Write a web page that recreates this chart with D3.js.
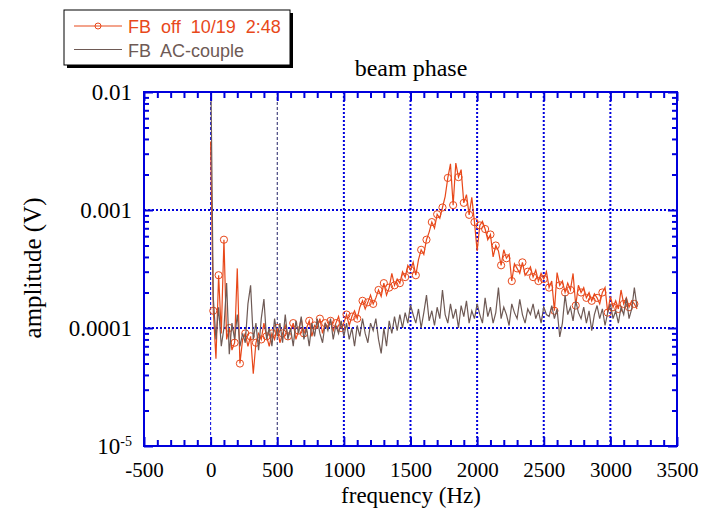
<!DOCTYPE html>
<html>
<head>
<meta charset="utf-8">
<script src="https://cdn.jsdelivr.net/npm/d3@7"></script>
<style>
  body { margin: 0; background: #fff; }
  svg { display: block; }
  .serif { font-family: "Liberation Serif", "Times New Roman", serif; fill: #000; }
  .legend-text { font-family: "Liberation Sans", Arial, sans-serif; font-size: 18px; white-space: pre; }
</style>
</head>
<body>
<div id="chart"></div>
<script>
// spectrum sampled every 20 Hz from 0 to 3200 Hz, amplitudes in units of 1e-4 V
const freqStep = 20
const fbOff = [
  38, 1.4, 0.55, 2.8, 0.9, 5.6, 0.8, 1.0, 0.65, 0.75,
  3.2, 0.5, 0.8, 0.9, 0.7, 0.85, 0.41, 0.75, 0.9, 0.8,
  1.1, 0.85, 0.7, 0.9, 0.8, 1.0, 0.75, 0.9, 1.05, 0.85,
  0.95, 1.1, 0.8, 0.95, 1.2, 0.9, 1.0, 1.15, 0.85, 1.05,
  1.0, 1.2, 0.9, 1.1, 1.0, 1.15, 0.95, 1.1, 1.25, 1.0,
  1.1, 1.3, 1.05, 1.25, 1.4, 1.2, 1.5, 1.7, 1.45, 1.65,
  1.9, 1.6, 1.8, 2.1, 1.85, 2.4, 1.9, 2.2, 2.9, 2.3,
  2.6, 2.4, 3.0, 2.7, 3.4, 3.1, 3.6, 2.8, 3.8, 4.6,
  4.2, 5.6, 6.5, 7.9, 7.0, 9.2, 8.5, 10.5, 13, 18.7,
  24.6, 11, 25, 19, 22, 11.5, 13.5, 9.1, 12.8, 7.9,
  4.5, 7.4, 8.0, 6.9, 5.6, 6.2, 4.0, 5.0, 4.5, 3.4,
  4.6, 3.9, 4.2, 2.5, 3.5, 3.2, 2.9, 3.6, 2.8, 3.0,
  3.3, 2.7, 3.1, 2.5, 2.9, 2.6, 3.0, 2.2, 2.5, 1.4,
  2.95, 2.3, 2.5, 2.0, 2.4, 2.1, 2.9, 1.55, 2.3, 2.0,
  2.2, 1.8, 2.0, 1.7, 1.95, 1.8, 1.6, 2.0, 2.2, 1.35,
  1.85, 1.5, 1.7, 1.45, 2.1, 1.6, 1.8, 1.5, 1.7, 1.6,
  1.45
]
const acCouple = [
  200, 1.8, 0.8, 1.5, 0.7, 1.0, 2.4, 0.6, 1.1, 0.8,
  1.3, 0.7, 0.9, 0.75, 1.6, 2.3, 0.8, 1.1, 0.65, 1.2,
  1.76, 0.8, 1.0, 0.7, 1.2, 0.85, 1.1, 0.75, 1.3, 0.8,
  1.0, 0.7, 1.15, 0.9, 1.25, 0.8, 1.0, 0.7, 1.1, 0.85,
  1.2, 0.9, 0.75, 1.1, 0.95, 1.2, 0.8, 1.05, 0.9, 1.15,
  0.85, 1.1, 0.8, 1.0, 0.7, 1.05, 0.85, 1.2, 0.9, 0.75,
  1.1, 0.95, 1.2, 0.8, 0.61, 1.0, 0.7, 1.15, 0.9, 1.25,
  0.95, 1.3, 1.0, 1.35, 1.1, 1.57, 1.3, 1.1, 1.45, 1.0,
  1.35, 1.9, 1.15, 1.4, 1.05, 1.5, 1.2, 2.1, 1.3, 1.1,
  1.6, 1.2, 1.45, 1.0, 1.55, 1.25, 1.7, 1.1, 1.4, 1.2,
  1.6, 1.3, 1.1, 1.8, 1.25, 1.5, 1.1, 1.35, 2.2, 1.2,
  1.5, 1.3, 1.05, 1.6, 1.35, 1.2, 1.75, 1.3, 1.1, 1.45,
  1.3, 1.6, 1.2, 1.4, 1.1, 1.5, 1.3, 1.25, 1.55, 1.2,
  1.45, 0.84, 1.1, 1.9, 1.3, 1.5, 1.15, 1.7, 1.35, 1.2,
  1.5, 1.1, 1.4, 0.95, 1.3, 1.55, 1.2, 1.45, 1.05, 1.35,
  1.6, 1.2, 1.4, 1.1, 1.5, 1.3, 1.8, 1.2, 1.45, 2.2,
  1.5
]
const unit = 1e-4

const xTicks = [-500, 0, 500, 1000, 1500, 2000, 2500, 3000, 3500]
const yTicks = [1e-5, 1e-4, 1e-3, 1e-2]
const yTickLabels = ['10', '0.0001', '0.001', '0.01']
const legendLabels = ['FB  off  10/19  2:48', 'FB  AC-couple']

const w = 713
const h = 510
const plotLeft = 144, plotRight = 677, plotTop = 92, plotBottom = 446
const blue = '#0000dd'
const color_off = '#e8481a'
const color_ac = '#6e5a55'

const svg = d3.select('#chart').append('svg').attr('width', w).attr('height', h)

const xScale = d3.scaleLinear().domain([-500, 3500]).range([plotLeft, plotRight])
const yScale = d3.scaleLog().domain([1e-5, 1e-2]).range([plotBottom, plotTop])

//grid lines
const gridX = [0, 500, 1000, 1500, 2000, 2500, 3000]
svg.append('g')
  .selectAll('line')
  .data(gridX)
  .join('line')
  .attr('x1', (d) => xScale(d))
  .attr('x2', (d) => xScale(d))
  .attr('y1', plotTop)
  .attr('y2', plotBottom)
  .attr('stroke', (d) => (d == 500 ? '#222266' : blue))
  .attr('stroke-width', (d) => (d < 1000 ? 1 : 2))
  .attr('stroke-dasharray', (d) => (d < 1000 ? '3,2' : '2,2'))

svg.append('g')
  .selectAll('line')
  .data([1e-4, 1e-3])
  .join('line')
  .attr('x1', plotLeft)
  .attr('x2', plotRight)
  .attr('y1', (d) => yScale(d))
  .attr('y2', (d) => yScale(d))
  .attr('stroke', blue)
  .attr('stroke-width', 2)
  .attr('stroke-dasharray', '2,2')

//data
svg.append('clipPath').attr('id', 'plot-clip')
  .append('rect').attr('x', plotLeft).attr('y', plotTop)
  .attr('width', plotRight - plotLeft).attr('height', plotBottom - plotTop)

const line = d3.line()
  .x((d, i) => xScale(i * freqStep))
  .y((d) => yScale(d * unit))

const plot = svg.append('g').attr('clip-path', 'url(#plot-clip)')

plot.append('path')
  .datum(fbOff)
  .attr('d', line)
  .attr('fill', 'none')
  .attr('stroke', color_off)
  .attr('stroke-width', 1.2)

plot.append('g')
  .selectAll('circle')
  .data(fbOff.map((v, i) => [i, v]).filter((d) => d[0] > 0 && d[0] % 2 == 1))
  .join('circle')
  .attr('cx', (d) => xScale(d[0] * freqStep))
  .attr('cy', (d) => yScale(d[1] * unit))
  .attr('r', 3.6)
  .attr('fill', 'none')
  .attr('stroke', color_off)
  .attr('stroke-width', 1)

plot.append('path')
  .datum(acCouple)
  .attr('d', line)
  .attr('fill', 'none')
  .attr('stroke', color_ac)
  .attr('stroke-width', 1.2)

//axes
const minorX = d3.range(-500, 3501, 100).filter((d) => d % 500 != 0)
const minorY = []
;[1e-5, 1e-4, 1e-3].forEach((dec) => {
  for (let k = 2; k <= 9; k++) minorY.push(dec * k)
})

const xAxis = svg.append('g').attr('transform', 'translate(0,' + plotBottom + ')')
  .call(d3.axisBottom(xScale).tickValues(xTicks).tickSize(-9).tickSizeOuter(0).tickPadding(16).tickFormat((d) => String(d)))
svg.append('g').attr('transform', 'translate(0,' + plotBottom + ')')
  .call(d3.axisBottom(xScale).tickValues(minorX).tickSize(-6).tickSizeOuter(0).tickFormat(''))
svg.append('g').attr('transform', 'translate(0,' + plotTop + ')')
  .call(d3.axisTop(xScale).tickValues(xTicks).tickSize(-9).tickSizeOuter(0).tickFormat(''))
svg.append('g').attr('transform', 'translate(0,' + plotTop + ')')
  .call(d3.axisTop(xScale).tickValues(minorX).tickSize(-6).tickSizeOuter(0).tickFormat(''))

const yAxis = svg.append('g').attr('transform', 'translate(' + plotLeft + ',0)')
  .call(d3.axisLeft(yScale).tickValues(yTicks).tickSize(-9).tickSizeOuter(0).tickPadding(12)
    .tickFormat((d, i) => yTickLabels[i]))
svg.append('g').attr('transform', 'translate(' + plotLeft + ',0)')
  .call(d3.axisLeft(yScale).tickValues(minorY).tickSize(-5).tickSizeOuter(0).tickFormat(''))
svg.append('g').attr('transform', 'translate(' + plotRight + ',0)')
  .call(d3.axisRight(yScale).tickValues(yTicks).tickSize(-9).tickSizeOuter(0).tickFormat(''))
svg.append('g').attr('transform', 'translate(' + plotRight + ',0)')
  .call(d3.axisRight(yScale).tickValues(minorY).tickSize(-5).tickSizeOuter(0).tickFormat(''))

svg.selectAll('.domain').remove()
svg.selectAll('.tick line').attr('stroke', blue).attr('stroke-width', 2)
svg.selectAll('.tick text').attr('class', 'serif').attr('fill', '#000')
xAxis.selectAll('.tick text').style('font-size', '21px')
yAxis.selectAll('.tick text').style('font-size', '23px')

// superscript on the lowest decade
yAxis.selectAll('.tick text')
  .filter((d) => d == 1e-5)
  .append('tspan')
  .attr('dy', '-0.55em')
  .style('font-size', '14px')
  .text('-5')

//frame
svg.append('rect')
  .attr('x', plotLeft).attr('y', plotTop)
  .attr('width', plotRight - plotLeft).attr('height', plotBottom - plotTop)
  .attr('fill', 'none').attr('stroke', blue).attr('stroke-width', 2)

//titles
svg.append('text').attr('class', 'serif')
  .attr('x', 411).attr('y', 76).attr('text-anchor', 'middle')
  .style('font-size', '24px').text('beam phase')

svg.append('text').attr('class', 'serif')
  .attr('x', 411).attr('y', 503).attr('text-anchor', 'middle')
  .style('font-size', '23px').text('frequency (Hz)')

svg.append('text').attr('class', 'serif')
  .attr('transform', 'translate(41,268) rotate(-90)')
  .attr('text-anchor', 'middle')
  .style('font-size', '25px').text('amplitude (V)')

//legend
const legend = svg.append('g').attr('id', 'legend')
legend.append('rect').attr('x', 67).attr('y', 13).attr('width', 226).attr('height', 55).attr('fill', '#000')
legend.append('rect').attr('x', 64).attr('y', 10).attr('width', 226).attr('height', 55)
  .attr('fill', '#fff').attr('stroke', '#000').attr('stroke-width', 1)

const legendColors = [color_off, color_ac]
legendColors.forEach((c, i) => {
  const y = 26 + i * 23.5
  legend.append('line').attr('x1', 74).attr('x2', 122).attr('y1', y).attr('y2', y)
    .attr('stroke', c).attr('stroke-width', 1.2)
  if (i == 0) {
    legend.append('circle').attr('cx', 98).attr('cy', y).attr('r', 3)
      .attr('fill', 'none').attr('stroke', c).attr('stroke-width', 1)
  }
  legend.append('text').attr('class', 'legend-text')
    .attr('x', 128).attr('y', y + 7)
    .attr('fill', c)
    .text(legendLabels[i])
})
</script>
</body>
</html>
